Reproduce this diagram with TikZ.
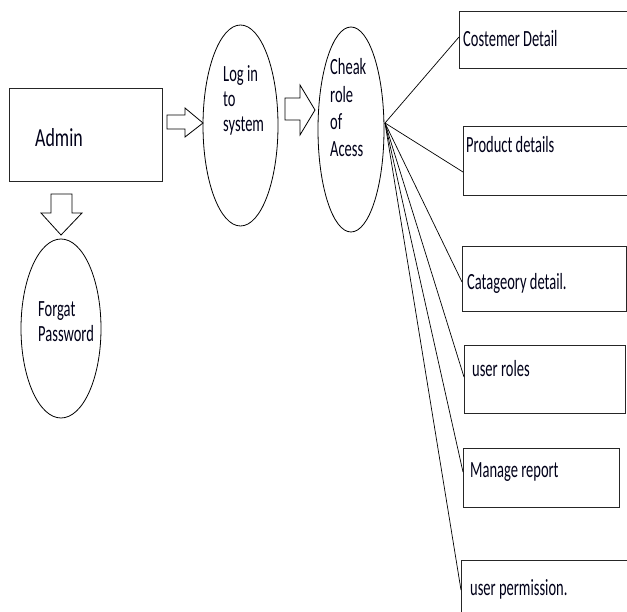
\documentclass[tikz,border=0pt]{standalone}
\usepackage{fontspec}
\setmainfont{Carlito}
\usetikzlibrary{shapes.geometric,calc}

% tall, narrow lettering
\newcommand\tallsmall[2][15.6]{\fontsize{14.5}{#1}\selectfont\scalebox{1}[1.6]{\begin{tabular}[t]{@{}l@{}}#2\end{tabular}}}

\tikzset{
  boxshape/.style={draw=black!85, line width=1pt, anchor=north west, inner sep=0pt},
  oval/.style={ellipse, draw, line width=0.8pt, inner sep=0pt},
  label/.style={anchor=base west, inner sep=0pt, text=black!90!blue},
  link/.style={line width=0.7pt},
  hollow/.style={draw, line width=0.8pt, fill=white, line join=miter}
}

\begin{document}
\begin{tikzpicture}[x=1pt, y=-1pt]
\useasboundingbox (0,0) rectangle (627,612);
\clip (0,0) rectangle (627,612);
\fill[white] (0,0) rectangle (627,612);

% left side: actor and password recovery
\node[boxshape, minimum width=153pt, minimum height=93pt] (admin) at (9,88) {};
\node[label] (admintext) at (35,147) {\fontsize{17.9}{20}\selectfont\scalebox{1}[1.45]{Admin}};

\node[oval, minimum width=80pt, minimum height=179pt] (forgot) at (61,328.5) {};
\node[label] (forgottext) at (38,317) {\tallsmall{Forgat\\Password}};

% the two ovals of the login flow
\node[oval, minimum width=75pt, minimum height=201pt] (login) at (240.5,125.5) {};
\node[label] (logintext) at (223,82) {\tallsmall{Log in\\to\\system}};

\node[oval, minimum width=66pt, minimum height=205pt] (check) at (351,129.5) {};
\node[label] (checktext) at (330,75) {\tallsmall[16.9]{Cheak\\role\\of\\Acess}};

% block arrows
\draw[hollow] (167,115) -- (185,115) -- (185,108) -- (203,123) -- (185,137) -- (185,129) -- (167,129) -- cycle;
\draw[hollow] (285,98) -- (300,98) -- (300,85) -- (315,110) -- (300,135) -- (300,120) -- (285,120) -- cycle;
\draw[hollow] (51,194) -- (72,194) -- (72,213) -- (82,213) -- (61,235) -- (41,213) -- (51,213) -- cycle;

% detail boxes
\node[boxshape, minimum width=181pt, minimum height=57pt] (cust) at (459,11) {};
\node[label] (custtext) at (463,47) {\tallsmall{Costemer Detail}};

\node[boxshape, minimum width=177pt, minimum height=69pt] (prod) at (463,126) {};
\node[label] (prodtext) at (466,153) {\tallsmall{Product details}};

\node[boxshape, minimum width=164pt, minimum height=65pt] (cat) at (462,246) {};
\node[label] (cattext) at (467,290) {\tallsmall{Catageory detail.}};

\node[boxshape, minimum width=161pt, minimum height=68pt] (roles) at (464,345) {};
\node[label] (rolestext) at (472,377) {\tallsmall{user roles}};

\node[boxshape, minimum width=156pt, minimum height=59pt] (report) at (463,448) {};
\node[label] (reporttext) at (470,478) {\tallsmall{Manage report}};

\node[boxshape, minimum width=179pt, minimum height=70pt] (perm) at (461,560) {};
\node[label] (permtext) at (470,595) {\tallsmall{user permission.}};

% fan of connectors from the role check
\coordinate (hub) at (385,123);
\draw[link] (hub) -- ([yshift=-26pt]cust.north west);
\draw[link] (hub) -- ([yshift=-46pt]prod.north west);
\draw[link] (hub) -- ([yshift=-36pt]cat.north west);
\draw[link] (hub) -- ([yshift=-32pt]roles.north west);
\draw[link] (hub) -- ([yshift=-24pt]report.north west);
\draw[link] (hub) -- ([yshift=-30pt]perm.north west);
\end{tikzpicture}
\end{document}
